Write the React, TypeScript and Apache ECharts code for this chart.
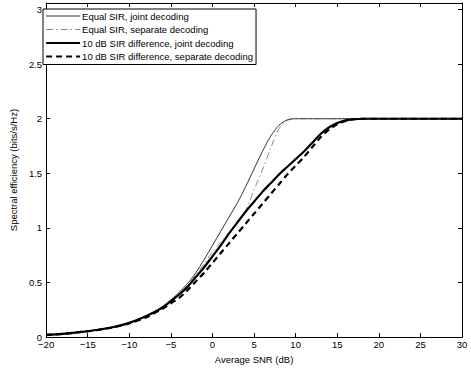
import React, { useEffect, useRef } from "react";
import * as echarts from "echarts";

const snr = [-20, -18, -16, -14, -12, -10, -8, -6, -5, -4, -3, -2, -1, 0, 1, 2, 3, 4, 5, 6, 7, 8, 9, 10, 11, 12, 13, 14, 15, 16, 17, 18, 20, 25, 30];

const equalJoint = [0.02, 0.03, 0.045, 0.065, 0.09, 0.13, 0.195, 0.28, 0.34, 0.41, 0.49, 0.59, 0.71, 0.84, 0.97, 1.10, 1.23, 1.38, 1.54, 1.70, 1.84, 1.94, 1.99, 2.0, 2.0, 2.0, 2.0, 2.0, 2.0, 2.0, 2.0, 2.0, 2.0, 2.0, 2.0];
const equalSeparate = [0.02, 0.03, 0.045, 0.065, 0.09, 0.13, 0.19, 0.275, 0.33, 0.39, 0.47, 0.57, 0.67, 0.78, 0.87, 0.96, 1.06, 1.16, 1.35, 1.53, 1.73, 1.91, 1.985, 2.0, 2.0, 2.0, 2.0, 2.0, 2.0, 2.0, 2.0, 2.0, 2.0, 2.0, 2.0];
const diffJoint = [0.02, 0.03, 0.045, 0.065, 0.09, 0.13, 0.19, 0.27, 0.33, 0.39, 0.46, 0.55, 0.64, 0.74, 0.84, 0.95, 1.05, 1.15, 1.24, 1.33, 1.41, 1.49, 1.56, 1.63, 1.70, 1.78, 1.86, 1.92, 1.96, 1.985, 1.995, 2.0, 2.0, 2.0, 2.0];
const diffSeparate = [0.02, 0.03, 0.045, 0.063, 0.088, 0.125, 0.18, 0.26, 0.31, 0.36, 0.43, 0.51, 0.59, 0.68, 0.77, 0.86, 0.95, 1.04, 1.13, 1.22, 1.31, 1.40, 1.49, 1.57, 1.65, 1.74, 1.83, 1.90, 1.95, 1.98, 1.995, 2.0, 2.0, 2.0, 2.0];

const seriesNames = [
  "Equal SIR, joint decoding",
  "Equal SIR, separate decoding",
  "10 dB SIR difference, joint decoding",
  "10 dB SIR difference, separate decoding",
];

const FONT = "'Liberation Sans', Arial, Helvetica, sans-serif";
const FS = 9.5;

const pairs = (ys: number[]) => snr.map((x, i) => [x, ys[i]]);
const minusFmt = (v: number) => String(v).replace("-", "\u2212");

export default function App() {
  const ref = useRef<HTMLDivElement>(null);
  useEffect(() => {
    if (!ref.current) return;
    const chart = echarts.init(ref.current, null, { renderer: "svg" });
    const axisCommon = {
      axisLine: { show: true, onZero: false, lineStyle: { color: "#000", width: 1 } },
      axisTick: { show: true, inside: true, length: 4, lineStyle: { color: "#000" } },
      splitLine: { show: false },
    };
    chart.setOption({
      animation: false,
      backgroundColor: "#fff",
      textStyle: { fontFamily: FONT },
      grid: { left: 33, right: 9, top: 3, bottom: 28, containLabel: false },
      legend: {
        orient: "vertical",
        left: 43,
        top: 9,
        padding: [1, 3, 2, 2],
        itemWidth: 34,
        itemHeight: 12,
        itemGap: 1.5,
        backgroundColor: "#fff",
        borderColor: "#000",
        borderWidth: 1,
        borderRadius: 0,
        itemStyle: { opacity: 0 },
        lineStyle: { width: "inherit" },
        textStyle: { fontSize: FS, lineHeight: 12, color: "#000", fontFamily: FONT, padding: [0, 0, 0, -3] },
        data: seriesNames,
      },
      xAxis: [
        {
          type: "value",
          min: -20,
          max: 30,
          interval: 5,
          position: "bottom",
          name: "Average SNR (dB)",
          nameLocation: "middle",
          nameGap: 13,
          nameTextStyle: { fontSize: FS, color: "#000", fontFamily: FONT },
          axisLabel: { fontSize: FS, color: "#000", margin: 2, formatter: minusFmt, fontFamily: FONT },
          ...axisCommon,
        },
        {
          type: "value",
          min: -20,
          max: 30,
          interval: 5,
          position: "top",
          axisLabel: { show: false },
          ...axisCommon,
        },
      ],
      yAxis: [
        {
          type: "value",
          min: 0,
          max: 3.06,
          interval: 0.5,
          position: "left",
          name: "Spectral efficiency (bits/s/Hz)",
          nameLocation: "middle",
          nameGap: 23,
          nameTextStyle: { fontSize: FS, color: "#000", fontFamily: FONT },
          axisLabel: { fontSize: FS, color: "#000", margin: 4, showMaxLabel: false, fontFamily: FONT },
          ...axisCommon,
        },
        {
          type: "value",
          min: 0,
          max: 3.06,
          interval: 0.5,
          position: "right",
          axisLabel: { show: false },
          ...axisCommon,
        },
      ],
      series: [
        {
          name: seriesNames[0],
          type: "line",
          data: pairs(equalJoint),
          symbol: "none",
          smooth: 0.3,
          lineStyle: { color: "#000", width: 0.8 },
          itemStyle: { color: "#000" },
        },
        {
          name: seriesNames[1],
          type: "line",
          data: pairs(equalSeparate),
          symbol: "none",
          smooth: 0.3,
          lineStyle: { color: "#555", width: 0.7, type: [7, 3, 1.5, 3] },
          itemStyle: { color: "#555" },
        },
        {
          name: seriesNames[2],
          type: "line",
          data: pairs(diffJoint),
          symbol: "none",
          smooth: 0.3,
          lineStyle: { color: "#000", width: 2.2 },
          itemStyle: { color: "#000" },
        },
        {
          name: seriesNames[3],
          type: "line",
          data: pairs(diffSeparate),
          symbol: "none",
          smooth: 0.3,
          lineStyle: { color: "#000", width: 2.2, type: [6, 4] },
          itemStyle: { color: "#000" },
        },
      ],
    });
    return () => chart.dispose();
  }, []);
  return <div ref={ref} style={{ width: 471, height: 369, position: "fixed", left: 0, top: 0 }} />;
}
